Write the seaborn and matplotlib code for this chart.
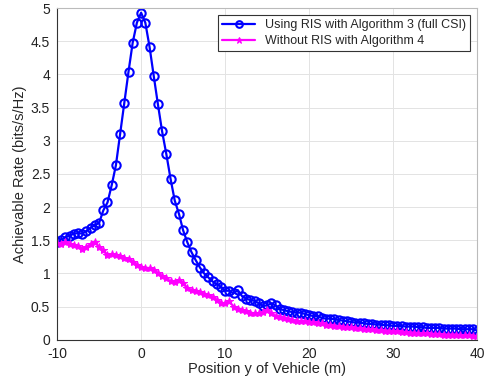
import numpy as np
import pandas as pd
import matplotlib
matplotlib.use("Agg")
import matplotlib.pyplot as plt
import seaborn as sns

# position grid (m), step 0.5
position = np.arange(-10, 40.5, 0.5)

rate_ris = [1.47, 1.50, 1.55, 1.57, 1.60, 1.61, 1.60, 1.64, 1.69, 1.73,
            1.76, 1.95, 2.07, 2.33, 2.63, 3.10, 3.57, 4.04, 4.48, 4.78,
            4.93, 4.78, 4.42, 3.98, 3.55, 3.14, 2.80, 2.43, 2.10, 1.90,
            1.65, 1.47, 1.32, 1.20, 1.09, 1.00, 0.94, 0.88, 0.84, 0.80,
            0.74, 0.74, 0.70, 0.75, 0.66, 0.62, 0.60, 0.59, 0.55, 0.51,
            0.52, 0.55, 0.52, 0.46, 0.45, 0.43, 0.42, 0.41, 0.41, 0.39,
            0.37, 0.36, 0.36, 0.33, 0.32, 0.32, 0.31, 0.30, 0.29, 0.28,
            0.27, 0.26, 0.26, 0.25, 0.24, 0.24, 0.23, 0.23, 0.22, 0.22,
            0.21, 0.21, 0.21, 0.20, 0.20, 0.20, 0.19, 0.19, 0.18, 0.18,
            0.18, 0.18, 0.17, 0.17, 0.17, 0.17, 0.16, 0.16, 0.16, 0.16,
            0.14]

rate_no_ris = [1.46, 1.44, 1.47, 1.45, 1.43, 1.42, 1.37, 1.40, 1.44, 1.48,
               1.40, 1.35, 1.28, 1.29, 1.28, 1.26, 1.24, 1.22, 1.18, 1.13,
               1.10, 1.09, 1.08, 1.06, 1.00, 0.96, 0.93, 0.88, 0.87, 0.90,
               0.86, 0.78, 0.75, 0.73, 0.72, 0.69, 0.68, 0.65, 0.60, 0.56,
               0.55, 0.58, 0.50, 0.47, 0.45, 0.43, 0.41, 0.40, 0.40, 0.42,
               0.45, 0.40, 0.36, 0.34, 0.33, 0.31, 0.30, 0.29, 0.28, 0.28,
               0.27, 0.27, 0.26, 0.25, 0.23, 0.22, 0.21, 0.21, 0.20, 0.19,
               0.19, 0.18, 0.18, 0.17, 0.16, 0.16, 0.15, 0.15, 0.14, 0.14,
               0.13, 0.13, 0.12, 0.12, 0.11, 0.11, 0.10, 0.10, 0.10, 0.09,
               0.09, 0.09, 0.08, 0.08, 0.08, 0.08, 0.07, 0.07, 0.07, 0.06,
               0.06]

labels = ['Using RIS with Algorithm 3 (full CSI)', 'Without RIS with Algorithm 4']

sns.set_style("whitegrid")
plt.rcParams['font.family'] = ['Liberation Sans', 'DejaVu Sans']
plt.rcParams['axes.unicode_minus'] = False

fig = plt.figure(figsize=(4.92, 3.84), dpi=100)
ax = fig.add_axes([0.116, 0.115, 0.854, 0.864])

sns.lineplot(x=position, y=rate_ris, ax=ax, color='#0000ff', lw=1.6,
             marker='o', markersize=6, markerfacecolor='none',
             markeredgecolor='#0000ff', markeredgewidth=1.5, label=labels[0])
sns.lineplot(x=position, y=rate_no_ris, ax=ax, color='#ff00ff', lw=1.6,
             marker='*', markersize=6, markeredgecolor='#ff00ff',
             label=labels[1])

ax.set_xlim(-10, 40)
ax.set_ylim(0, 5)
ax.set_xticks(np.arange(-10, 41, 10))
ax.set_yticks(np.arange(0, 5.01, 0.5))
ax.set_yticklabels(['0', '0.5', '1', '1.5', '2', '2.5', '3', '3.5', '4', '4.5', '5'])
ax.grid(True, color='#e3e3e3', lw=0.7)
ax.tick_params(labelsize=10, length=3, direction='in', colors='#222222')
ax.tick_params(axis='x', pad=5)
ax.tick_params(axis='y', pad=5)
for s in ax.spines.values():
    s.set_color('#bbbbbb')
    s.set_linewidth(0.8)
ax.spines['left'].set_color('#333333')
ax.spines['bottom'].set_color('#333333')

ax.set_xlabel('Position y of Vehicle (m)', fontsize=10.5, labelpad=1)
ax.set_ylabel('Achievable Rate (bits/s/Hz)', fontsize=10.5, labelpad=3)

leg = ax.legend(loc='upper right', fontsize=9, frameon=True, fancybox=False,
                edgecolor='#333333', framealpha=1, borderpad=0.35,
                handlelength=2.6, borderaxespad=0.55, labelspacing=0.3,
                markerscale=0.8)
leg.get_frame().set_linewidth(0.8)

fig.savefig('out.png', dpi=100)
